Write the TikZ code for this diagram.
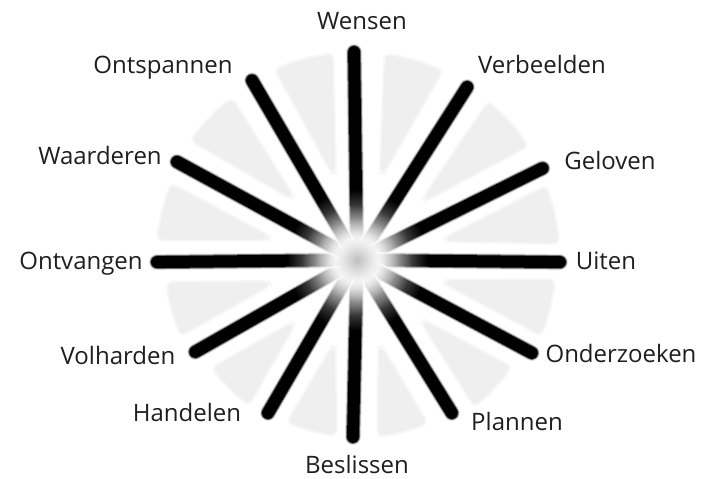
\documentclass[tikz,border=0pt]{standalone}
\usepackage{fontspec}
\setmainfont{Open Sans}
\usepackage{xcolor}
\usepackage{tikz}
\usetikzlibrary{fadings}
\definecolor{wheelgray}{RGB}{239,239,239}
\definecolor{labelink}{RGB}{30,30,30}
\tikzfading[name=glowfade,inner color=transparent!0,outer color=transparent!100]

\begin{document}
\begin{tikzpicture}[x=1pt,y=1pt,
  label/.style={font=\fontsize{24}{28}\selectfont,text=labelink,inner sep=0pt,
    text height=17pt,text depth=5pt,anchor=center},
  wedge/.style={fill=wheelgray,draw=wheelgray!50,line width=2pt,rounded corners=6pt},
  spokehalo/.style={line width=16pt,line cap=round,draw=black!12},
  spokeblur/.style={line width=14pt,line cap=round,draw=black!55},
  spoke/.style={line width=12pt,line cap=round,draw=black}]

\path[use as bounding box] (0,0) rectangle (704,479);
\coordinate (c) at (357,219);

% grey segments between the spokes
\begin{scope}[shift={(c)}]
\foreach \m/\R in {74/208,42/206,13/203,-14/199,-43/188,-75/178,
                   -105/177,-135/181,-165/192,166/201,136/205,105/208}
  \fill[wedge] (\m-8.5:\R) arc[start angle=\m-8.5,end angle=\m+8.5,radius=\R]
    -- (\m+1.5:90) -- (\m-1.5:90) -- cycle;
\end{scope}

% spokes
\begin{scope}[shift={(c)}]
\foreach \ang/\len/\nm in {90.8/208/wensen,57.5/205/verbeelden,26.3/207/geloven,
    -0.6/203/uiten,-28/198/onderzoeken,-58.2/180/plannen,-91.3/177/beslissen,
    -120.2/177/handelen,-150.4/186/volharden,180.6/200/ontvangen,
    151.4/205/waarderen,120.3/208/ontspannen}
  \coordinate (\nm-end) at (\ang:\len);
\end{scope}
\foreach \nm in {wensen,verbeelden,geloven,uiten,onderzoeken,plannen,
                 beslissen,handelen,volharden,ontvangen,waarderen,ontspannen}
{
  \draw[spokehalo] (c) -- (\nm-end);
  \draw[spokeblur] (c) -- (\nm-end);
  \draw[spoke] (c) -- (\nm-end);
}

% soft centre
\foreach \r in {70,55,42,32}
  \fill[white,path fading=glowfade] (c) circle (\r);
\fill[black!25,path fading=glowfade] (c) circle (22);

\node[label] (wensen) at (362,455) {Wensen};
\node[label] (verbeelden) at (542,411) {Verbeelden};
\node[label] (geloven) at (610,315) {Geloven};
\node[label] (uiten) at (606,215) {Uiten};
\node[label] (onderzoeken) at (621,122) {Onderzoeken};
\node[label] (plannen) at (517,54) {Plannen};
\node[label] (beslissen) at (357,11) {Beslissen};
\node[label] (handelen) at (187,63) {Handelen};
\node[label] (volharden) at (118,120) {Volharden};
\node[label] (ontvangen) at (81,215) {Ontvangen};
\node[label] (waarderen) at (100,320) {Waarderen};
\node[label] (ontspannen) at (163,411) {Ontspannen};

\end{tikzpicture}
\end{document}
